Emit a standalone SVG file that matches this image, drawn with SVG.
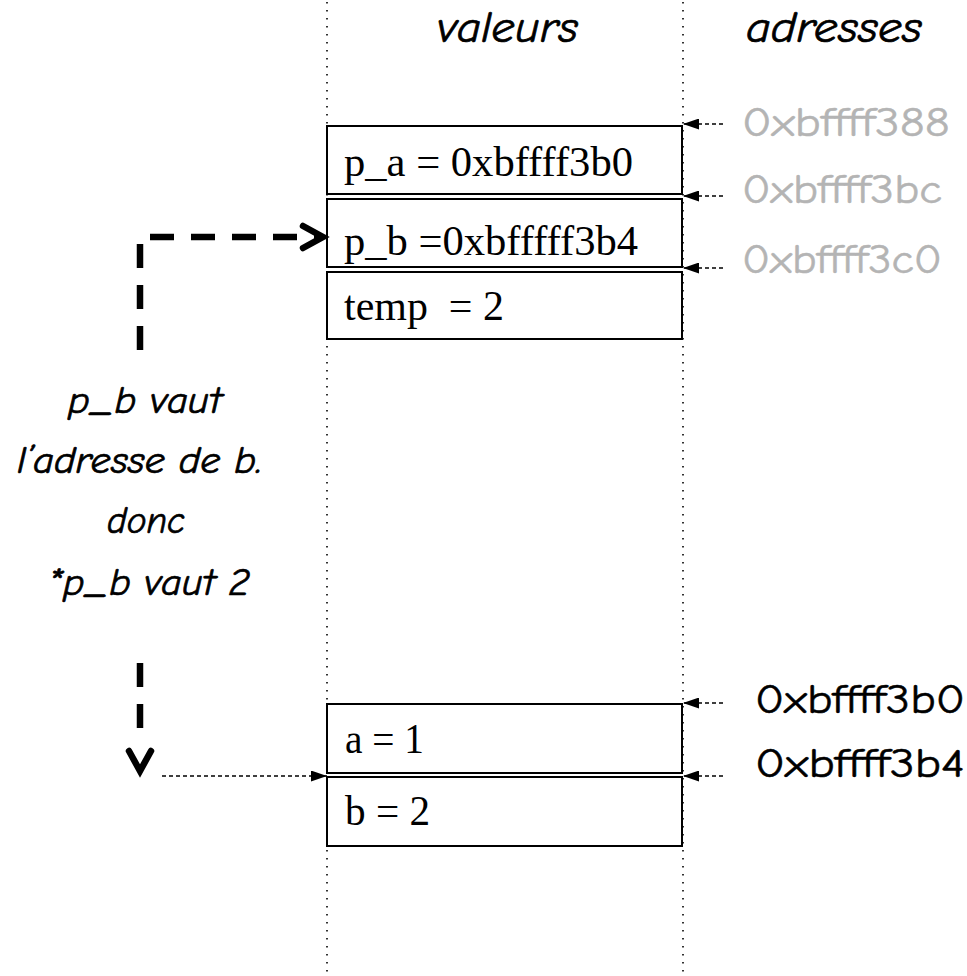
<svg xmlns="http://www.w3.org/2000/svg" width="967" height="976" viewBox="0 0 967 976">
  <style>
    .guide { stroke: #000; stroke-width: 1.6; stroke-dasharray: 1.6 6.4; fill: none; }
    .cell { fill: #fff; stroke: #000; stroke-width: 2; }
    .val { font-family: "Liberation Serif", "Times New Roman", serif; font-size: 42px; fill: #000; }
    .hand { font-family: "Comic Sans MS", "Comic Neue", "DejaVu Sans", sans-serif; font-style: italic; fill: #000; stroke: #000; stroke-width: 0.7; }
    .addr { font-family: "Comic Sans MS", "Comic Neue", "DejaVu Sans", sans-serif; font-size: 40px; stroke-width: 0.5; }
    .addr-old { fill: #b4b4b4; stroke: #b4b4b4; }
    .addr-cur { fill: #000; stroke: #000; }
    .ptr { stroke: #000; stroke-width: 1.5; stroke-dasharray: 4 3; fill: none; }
    .bold-dash { stroke: #000; stroke-width: 6.5; stroke-dasharray: 24 17; fill: none; }
    .chevron { stroke: #000; stroke-width: 6.5; fill: none; stroke-linecap: round; stroke-linejoin: miter; }
  </style>
  <defs>
    <marker id="tri" viewBox="0 0 16 11" refX="16" refY="5.5" markerWidth="16" markerHeight="11" markerUnits="userSpaceOnUse" orient="auto">
      <path d="M0,0 L16,5.5 L0,11 Z" fill="#000"/>
    </marker>
  </defs>

  <rect width="967" height="976" fill="#fff"/>

  <!-- column separators -->
  <g id="guides">
    <line class="guide" x1="327" y1="2" x2="327" y2="976"/>
    <line class="guide" x1="683" y1="2" x2="683" y2="976"/>
  </g>

  <!-- column titles -->
  <g id="titles">
    <text class="hand" x="437" y="42" font-size="44" textLength="141" lengthAdjust="spacingAndGlyphs">valeurs</text>
    <text class="hand" x="746" y="42" font-size="44" textLength="176" lengthAdjust="spacingAndGlyphs">adresses</text>
  </g>

  <!-- stack frame of the function -->
  <g id="cell-p_a">
    <rect class="cell" x="327" y="126" width="355" height="68"/>
    <text class="val" x="344" y="176" textLength="289" lengthAdjust="spacingAndGlyphs">p_a = 0xbffff3b0</text>
  </g>
  <g id="cell-p_b">
    <rect class="cell" x="327" y="199" width="355" height="68"/>
    <text class="val" x="344" y="255" textLength="294" lengthAdjust="spacingAndGlyphs">p_b =0xbfffff3b4</text>
  </g>
  <g id="cell-temp">
    <rect class="cell" x="327" y="272" width="355" height="67"/>
    <text class="val" x="344" y="320" textLength="160" lengthAdjust="spacingAndGlyphs" xml:space="preserve">temp  = 2</text>
  </g>

  <!-- caller variables -->
  <g id="cell-a">
    <rect class="cell" x="327" y="704" width="355" height="69"/>
    <text class="val" x="345" y="753" textLength="79" lengthAdjust="spacingAndGlyphs">a = 1</text>
  </g>
  <g id="cell-b">
    <rect class="cell" x="327" y="777" width="355" height="69"/>
    <text class="val" x="345" y="825" textLength="85" lengthAdjust="spacingAndGlyphs">b = 2</text>
  </g>

  <!-- addresses -->
  <g id="addr-388"><text class="addr addr-old" x="742" y="136" textLength="208" lengthAdjust="spacingAndGlyphs">0xbffff388</text></g>
  <g id="addr-3bc"><text class="addr addr-old" x="742" y="203" textLength="200" lengthAdjust="spacingAndGlyphs">0xbffff3bc</text></g>
  <g id="addr-3c0"><text class="addr addr-old" x="742" y="273" textLength="200" lengthAdjust="spacingAndGlyphs">0xbffff3c0</text></g>
  <g id="addr-3b0"><text class="addr addr-cur" x="755" y="713" textLength="210" lengthAdjust="spacingAndGlyphs">0xbffff3b0</text></g>
  <g id="addr-3b4"><text class="addr addr-cur" x="755" y="777" textLength="210" lengthAdjust="spacingAndGlyphs">0xbffff3b4</text></g>

  <!-- explanation -->
  <g id="note">
    <text class="hand" x="68" y="413" font-size="38" textLength="154" lengthAdjust="spacingAndGlyphs">p_b vaut</text>
    <text class="hand" x="17" y="473" font-size="38" textLength="245" lengthAdjust="spacingAndGlyphs">l’adresse de b.</text>
    <text class="hand" x="107" y="533" font-size="38" textLength="78" lengthAdjust="spacingAndGlyphs">donc</text>
    <text class="hand" x="48" y="595" font-size="38" textLength="202" lengthAdjust="spacingAndGlyphs">*p_b vaut 2</text>
  </g>

  <g id="connectors">
    <!-- address pointers -->
    <line class="ptr" x1="723" y1="124" x2="683" y2="124" marker-end="url(#tri)"/>
    <line class="ptr" x1="723" y1="196" x2="683" y2="196" marker-end="url(#tri)"/>
    <line class="ptr" x1="723" y1="268" x2="683" y2="268" marker-end="url(#tri)"/>
    <line class="ptr" x1="723" y1="703" x2="683" y2="703" marker-end="url(#tri)"/>
    <line class="ptr" x1="723" y1="776" x2="683" y2="776" marker-end="url(#tri)"/>

    <!-- p_b points to b -->
    <line class="ptr" x1="162" y1="776" x2="327" y2="776" marker-end="url(#tri)"/>

    <!-- dereference path -->
    <path class="bold-dash" d="M140,350 L140,237 L318,237"/>
    <polyline class="chevron" points="303,226 323,237 303,248"/>
    <path class="bold-dash" d="M140,663 L140,730"/>
    <polyline class="chevron" points="129,751 140,771 151,751"/>
  </g>
</svg>
